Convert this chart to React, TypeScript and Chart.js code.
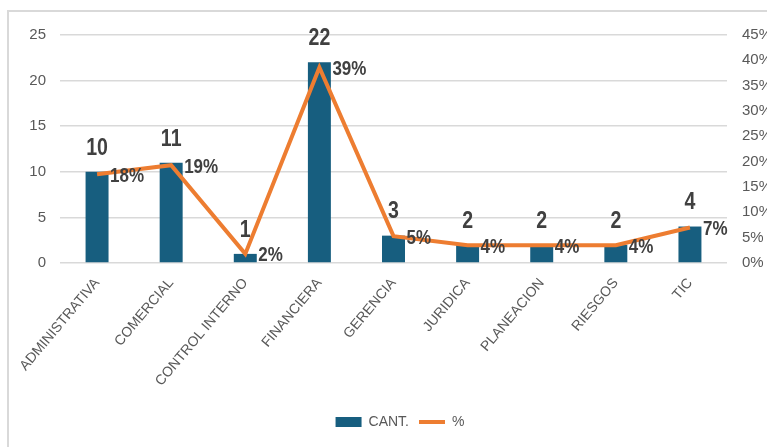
import React, { useEffect, useRef } from "react";
import { Chart, registerables } from "chart.js";

Chart.register(...registerables);

const categories = ["ADMINISTRATIVA", "COMERCIAL", "CONTROL INTERNO", "FINANCIERA", "GERENCIA", "JURIDICA", "PLANEACION", "RIESGOS", "TIC"];
const cantValues = [10, 11, 1, 22, 3, 2, 2, 2, 4];
const pctValues = [17.5, 19.3, 1.8, 38.6, 5.3, 3.5, 3.5, 3.5, 7.0];
const leftTicks = { min: 0, max: 25, step: 5 };
const rightTicks = { min: 0, max: 45, step: 5 };

const BAR_COLOR = "#175E7F";
const LINE_COLOR = "#ED7D31";
const LABEL_COLOR = "#404040";
const TICK_COLOR = "#595959";
const FONT = "'Liberation Sans Narrow', 'Arial Narrow', 'Liberation Sans', Arial, sans-serif";

function drawCondensed(ctx: any, text: string, x: number, y: number, sx: number) {
  ctx.save();
  ctx.translate(x, y);
  ctx.scale(sx, 1);
  ctx.fillText(text, 0, 0);
  ctx.restore();
}

const labelPlugin = {
  id: "valueLabels",
  afterDatasetsDraw(chart: any) {
    const ctx = chart.ctx;
    ctx.save();
    ctx.fillStyle = LABEL_COLOR;
    chart.data.datasets.forEach((ds: any, di: number) => {
      const meta = chart.getDatasetMeta(di);
      meta.data.forEach((el: any, i: number) => {
        const v = ds.data[i];
        if (ds.type === "bar") {
          ctx.font = `bold 23px ${FONT}`;
          ctx.textAlign = "center";
          ctx.textBaseline = "bottom";
          drawCondensed(ctx, String(v), el.x, el.y - 12, 0.85);
        } else {
          ctx.font = `bold 20px ${FONT}`;
          ctx.textAlign = "left";
          ctx.textBaseline = "middle";
          drawCondensed(ctx, Math.round(v) + "%", el.x + 13, el.y + 2, 0.85);
        }
      });
    });
    ctx.restore();
  },
};

export default function App() {
  const ref = useRef<HTMLCanvasElement>(null);
  useEffect(() => {
    if (!ref.current) return;
    const chart = new Chart(ref.current, {
      type: "bar",
      data: {
        labels: categories,
        datasets: [
          {
            type: "line",
            label: "%",
            data: pctValues,
            yAxisID: "y1",
            borderColor: LINE_COLOR,
            backgroundColor: LINE_COLOR,
            borderWidth: 4,
            pointRadius: 0,
            tension: 0,
          } as any,
          {
            type: "bar",
            label: "CANT.",
            data: cantValues,
            yAxisID: "y",
            backgroundColor: BAR_COLOR,
            barPercentage: 0.31,
            categoryPercentage: 1,
          } as any,
        ],
      },
      options: {
        responsive: false,
        animation: false,
        layout: { padding: { top: 35, bottom: 8, left: 0, right: 0 } },
        plugins: {
          tooltip: { enabled: false },
          legend: {
            position: "bottom",
            reverse: true,
            labels: {
              usePointStyle: true,
              pointStyleWidth: 26,
              boxHeight: 10,
              padding: 10,
              color: TICK_COLOR,
              font: { family: FONT, size: 14 },
              generateLabels: (chart: any) =>
                chart.data.datasets.map((ds: any, i: number) => ({
                  text: ds.label,
                  fillStyle: ds.type === "bar" ? BAR_COLOR : LINE_COLOR,
                  strokeStyle: ds.type === "bar" ? BAR_COLOR : LINE_COLOR,
                  lineWidth: ds.type === "bar" ? 0 : 4,
                  pointStyle: ds.type === "bar" ? "rect" : "line",
                  datasetIndex: i,
                  fontColor: TICK_COLOR,
                })),
            },
          },
        },
        scales: {
          x: {
            grid: { display: false },
            border: { display: false },
            ticks: {
              color: TICK_COLOR,
              font: { family: FONT, size: 14 },
              minRotation: 50,
              maxRotation: 50,
              autoSkip: false,
              padding: 4,
            },
            afterFit: (s: any) => {
              s.height = 142;
            },
          },
          y: {
            position: "left",
            min: leftTicks.min,
            max: leftTicks.max,
            ticks: {
              stepSize: leftTicks.step,
              color: TICK_COLOR,
              font: { family: FONT, size: 15 },
              padding: 14,
            },
            grid: { color: "#D9D9D9", lineWidth: 1.5, drawTicks: false },
            border: { display: false },
            afterFit: (s: any) => {
              s.width = 60;
            },
          },
          y1: {
            position: "right",
            min: rightTicks.min,
            max: rightTicks.max,
            ticks: {
              stepSize: rightTicks.step,
              color: TICK_COLOR,
              font: { family: FONT, size: 15 },
              padding: 15,
              callback: (v: any) => v + "%",
            },
            grid: { display: false, drawTicks: false },
            border: { display: false },
            afterFit: (s: any) => {
              s.width = 73;
            },
          },
        },
      },
      plugins: [labelPlugin],
    });
    return () => chart.destroy();
  }, []);
  return (
    <div style={{ position: "absolute", left: 0, top: 0, width: 767, height: 447, overflow: "hidden", background: "#fff" }}>
      <div style={{ position: "absolute", left: 7, top: 10, width: 820, height: 500, border: "2px solid #D9D9D9", boxSizing: "border-box" }} />
      <canvas ref={ref} width={800} height={447} style={{ position: "absolute", left: 0, top: 0 }} />
    </div>
  );
}
